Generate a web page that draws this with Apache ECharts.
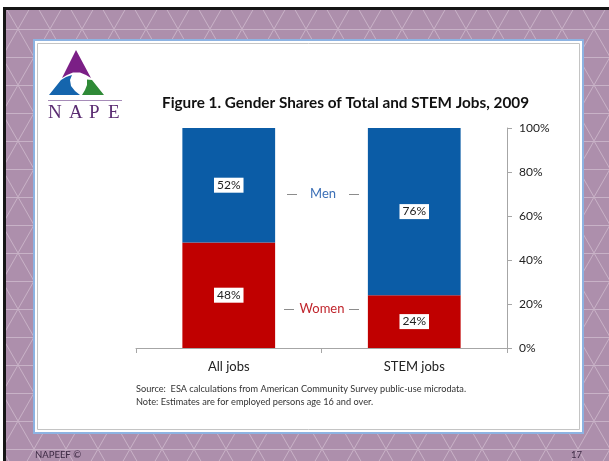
<!DOCTYPE html>
<html><head><meta charset="utf-8">
<script src="https://cdn.jsdelivr.net/npm/echarts@6/dist/echarts.min.js"></script>
<style>
html,body{margin:0;padding:0;background:#fff;}
#wrap{position:relative;width:609px;height:461px;overflow:hidden;background:#fff}
#bg{position:absolute;left:3px;top:7px;right:0;bottom:0;border-left:3px solid #151515;border-top:3px solid #151515;background-color:#ad8fac;
background-image:url("data:image/svg+xml,%3Csvg xmlns='http://www.w3.org/2000/svg' width='32' height='56'%3E%3Cg stroke='%23c8b2c7' stroke-width='1' fill='none'%3E%3Cline x1='0' y1='0.5' x2='32' y2='0.5'/%3E%3Cline x1='0' y1='28.5' x2='32' y2='28.5'/%3E%3Cline x1='0' y1='0' x2='32' y2='56'/%3E%3Cline x1='32' y1='0' x2='0' y2='56'/%3E%3C/g%3E%3C/svg%3E");
background-position:12px 19px;}
#chart{position:absolute;left:0;top:0;width:609px;height:461px}
</style></head>
<body><div id="wrap"><div id="bg"></div><div id="chart"></div></div>
<script>
const categories = ['All jobs', 'STEM jobs'];
const womenShare = [48, 24];
const menShare = [52, 76];
const yMin = 0, yMax = 100, yInterval = 20;
const titleText = 'Figure 1. Gender Shares of Total and STEM Jobs, 2009';
const sourceText = 'Source:  ESA calculations from American Community Survey public-use microdata.';
const noteText = 'Note: Estimates are for employed persons age 16 and over.';

const FONT = 'Lato, "Open Sans", sans-serif';
const SERIF = '19px "Liberation Serif", "DejaVu Serif", serif';
const chart = echarts.init(document.getElementById('chart'), null, {renderer: 'canvas'});

const labelStyle = {
  show: true, position: 'inside', formatter: '{c}%',
  backgroundColor: '#fff', padding: [2, 3, 1, 3], color: '#222',
  fontSize: 12, fontFamily: FONT
};

const option = {
  backgroundColor: 'transparent',
  animation: false,
  title: {
    text: titleText, left: 162, top: 96, padding: 0,
    textStyle: {fontFamily: FONT, fontWeight: 'bold', fontSize: 15.3, color: '#111'}
  },
  grid: {left: 136, right: 102, top: 128, bottom: 113},
  xAxis: {
    type: 'category', data: categories,
    axisLine: {lineStyle: {color: '#a6a6a6'}},
    axisTick: {show: true, length: 5, lineStyle: {color: '#a6a6a6'}},
    axisLabel: {color: '#222', fontSize: 13, fontFamily: FONT, margin: 12}
  },
  yAxis: {
    type: 'value', position: 'right', min: yMin, max: yMax, interval: yInterval,
    axisLine: {show: true, lineStyle: {color: '#a6a6a6'}},
    axisTick: {show: true, length: 5, lineStyle: {color: '#a6a6a6'}},
    splitLine: {show: false},
    axisLabel: {formatter: '{value}%', margin: 12, color: '#222', fontSize: 12, fontFamily: FONT}
  },
  series: [
    {name: 'Women', type: 'bar', stack: 'total', data: womenShare, barWidth: '50%',
     itemStyle: {color: '#c00000'}, label: labelStyle},
    {name: 'Men', type: 'bar', stack: 'total', data: menShare, barWidth: '50%',
     itemStyle: {color: '#0b5ca6'}, label: labelStyle}
  ],
  graphic: [
    {type: 'rect', z: -10, shape: {x: 34, y: 40, width: 549, height: 393}, style: {fill: '#fff', stroke: '#8db3e2', lineWidth: 2}},
    {type: 'rect', z: -9, shape: {x: 37.5, y: 43.5, width: 542, height: 386}, style: {fill: 'none', stroke: '#c4c4c4', lineWidth: 1}},
    // logo
    {type: 'polygon', shape: {points: [[76,50],[91,78],[86,75],[80,72.5],[73,72.5],[67,75],[62,78]]}, style: {fill: '#7b1f86'}},
    {type: 'polygon', shape: {points: [[61,80],[49,95],[80,95],[75,91],[71,86],[70,80],[72,75],[66,77]]}, style: {fill: '#1565ad'}},
    {type: 'polygon', shape: {points: [[92,80],[104,95],[82,95],[85,90],[87,85],[87,79.5]]}, style: {fill: '#2f8a37'}},
    {type: 'line', shape: {x1: 48, y1: 100.5, x2: 122, y2: 100.5}, style: {stroke: '#a68cb8', lineWidth: 1}},
    {type: 'text', x: 48, y: 113, style: {text: 'N', fill: '#5b2c72', font: SERIF, verticalAlign: 'middle'}},
    {type: 'text', x: 69, y: 113, style: {text: 'A', fill: '#5b2c72', font: SERIF, verticalAlign: 'middle'}},
    {type: 'text', x: 89, y: 113, style: {text: 'P', fill: '#5b2c72', font: SERIF, verticalAlign: 'middle'}},
    {type: 'text', x: 108, y: 113, style: {text: 'E', fill: '#5b2c72', font: SERIF, verticalAlign: 'middle'}},
    // annotations
    {type: 'line', shape: {x1: 287, y1: 194.5, x2: 297, y2: 194.5}, style: {stroke: '#8c8c8c', lineWidth: 1}},
    {type: 'line', shape: {x1: 349, y1: 194.5, x2: 359, y2: 194.5}, style: {stroke: '#8c8c8c', lineWidth: 1}},
    {type: 'text', x: 323, y: 194, style: {text: 'Men', fill: '#3b6fb6', font: '13px ' + FONT, align: 'center', verticalAlign: 'middle'}},
    {type: 'line', shape: {x1: 284, y1: 309.5, x2: 294, y2: 309.5}, style: {stroke: '#8c8c8c', lineWidth: 1}},
    {type: 'line', shape: {x1: 349, y1: 309.5, x2: 359, y2: 309.5}, style: {stroke: '#8c8c8c', lineWidth: 1}},
    {type: 'text', x: 322, y: 309, style: {text: 'Women', fill: '#c0262d', font: '13px ' + FONT, align: 'center', verticalAlign: 'middle'}},
    // source / note
    {type: 'text', x: 136, y: 389, style: {text: sourceText, fill: '#333', font: '9.2px ' + FONT, verticalAlign: 'middle'}},
    {type: 'text', x: 136, y: 402, style: {text: noteText, fill: '#333', font: '9.2px ' + FONT, verticalAlign: 'middle'}},
    // footer
    {type: 'text', x: 35, y: 455, style: {text: 'NAPEEF ©', fill: '#3d2a44', font: '9.5px ' + FONT, verticalAlign: 'middle'}},
    {type: 'text', x: 582, y: 455, style: {text: '17', fill: '#3d2a44', font: '9.5px ' + FONT, align: 'right', verticalAlign: 'middle'}}
  ]
};
chart.setOption(option);
</script></body></html>
